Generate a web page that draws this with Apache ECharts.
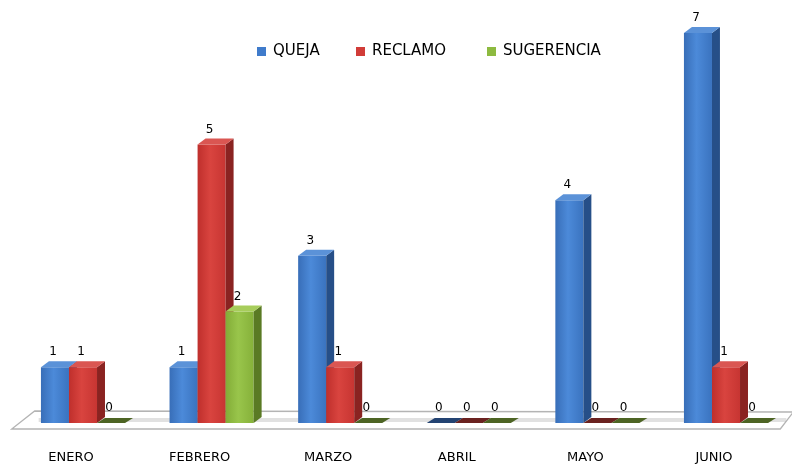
<!DOCTYPE html>
<html><head><meta charset="utf-8">
<script src="https://cdn.jsdelivr.net/npm/echarts@6/dist/echarts.min.js"></script>
<style>html,body{margin:0;padding:0;background:#fff}#c{width:792px;height:465px}</style>
</head><body><div id="c"></div>
<script>
var categories = ['ENERO', 'FEBRERO', 'MARZO', 'ABRIL', 'MAYO', 'JUNIO'];
var seriesNames = ['QUEJA', 'RECLAMO', 'SUGERENCIA'];
var queja = [1, 1, 3, 0, 4, 7];
var reclamo = [1, 5, 1, 0, 0, 1];
var sugerencia = [0, 2, 0, 0, 0, 0];

var palettes = [
  {front: ['#386EB8', '#4C8AD9', '#3A73BF'], side: '#264F88', top: '#5B92D8', flat: '#234372', legend: '#3F7BCB'},
  {front: ['#BF2F2C', '#D9443F', '#C73532'], side: '#8A2321', top: '#DA5652', flat: '#6A2220', legend: '#D13C38'},
  {front: ['#82AC37', '#99C54B', '#86B13A'], side: '#5A7A24', top: '#A7CD5B', flat: '#4D6424', legend: '#8DBA40'}
];

function makeRender(idx) {
  var p = palettes[idx];
  return function (params, api) {
    var cat = api.value(0), v = api.value(1);
    var base = api.coord([cat, 0]);
    var topPt = api.coord([cat, v]);
    var band = api.size([1, 0])[0];
    var bw = band * 0.218, dx = band * 0.062, dy = 6;
    var x0 = base[0] - 1.5 * bw + idx * bw;
    var y0 = base[1], y1 = topPt[1];
    var children = [];
    if (v > 0) {
      children.push({type: 'rect', shape: {x: x0, y: y1, width: bw, height: y0 - y1},
        style: {fill: new echarts.graphic.LinearGradient(0, 0, 1, 0, [
          {offset: 0, color: p.front[0]}, {offset: 0.45, color: p.front[1]}, {offset: 1, color: p.front[2]}])}});
      children.push({type: 'polygon', shape: {points: [[x0 + bw, y0], [x0 + bw + dx, y0 - dy], [x0 + bw + dx, y1 - dy], [x0 + bw, y1]]},
        style: {fill: p.side}});
      children.push({type: 'polygon', shape: {points: [[x0, y1], [x0 + bw, y1], [x0 + bw + dx, y1 - dy], [x0 + dx, y1 - dy]]},
        style: {fill: p.top}});
    } else {
      children.push({type: 'polygon', shape: {points: [[x0, y0], [x0 + bw, y0], [x0 + bw + dx, y0 - dy + 1], [x0 + dx, y0 - dy + 1]]},
        style: {fill: p.flat}});
    }
    children.push({type: 'text', x: x0 + bw * 0.43, y: y1 - 15,
      style: {text: String(v), fill: '#000', font: '12px "DejaVu Sans"', align: 'center', verticalAlign: 'middle'}});
    return {type: 'group', children: children};
  };
}

function floorRender(params, api) {
  var cs = params.coordSys;
  var y0 = api.coord([0, 0])[1];
  var L = cs.x, R = cs.x + cs.width;
  var pts = [[L + 16, y0 - 12], [R + 3, y0 - 11], [R - 10, y0 + 6], [L - 7, y0 + 6]];
  return {type: 'group', children: [
    {type: 'polygon', shape: {points: pts}, style: {fill: '#fff', stroke: '#B4B4B4', lineWidth: 1.3}},
    {type: 'polyline', shape: {points: [[L + 20, y0 - 3], [R - 4, y0 - 3]]},
      style: {stroke: 'rgba(170,170,170,0.35)', lineWidth: 4}}
  ]};
}

var dataSets = [queja, reclamo, sugerencia];
var series = [{type: 'custom', name: 'floor', renderItem: floorRender, data: [[0, 0]], z: 1, silent: true}];
dataSets.forEach(function (arr, i) {
  series.push({
    type: 'custom', name: seriesNames[i], z: 2 + i,
    renderItem: makeRender(i),
    itemStyle: {color: palettes[i].legend},
    data: arr.map(function (v, k) { return [k, v]; })
  });
});

var legendLefts = [252, 351, 482];
var legends = seriesNames.map(function (n, i) {
  return {
    data: [n], left: legendLefts[i], top: 39, icon: 'rect', itemWidth: 9, itemHeight: 9,
    textStyle: {fontFamily: 'DejaVu Sans', fontSize: 15, color: '#000', padding: [0, 0, 0, 2]}
  };
});

var chart = echarts.init(document.getElementById('c'));
chart.setOption({
  animation: false,
  backgroundColor: '#fff',
  legend: legends,
  grid: {left: 18.7, right: 1.7, top: 33, bottom: 42, containLabel: false, outerBoundsMode: 'none'},
  xAxis: {
    type: 'category', data: categories, boundaryGap: true,
    axisLine: {show: false}, axisTick: {show: false}, splitLine: {show: false},
    axisLabel: {margin: 28, color: '#000', fontFamily: 'DejaVu Sans', fontSize: 13, padding: [0, 24, 0, 0]}
  },
  yAxis: {type: 'value', min: 0, max: 7, show: false, splitLine: {show: false}},
  series: series
});
</script></body></html>
